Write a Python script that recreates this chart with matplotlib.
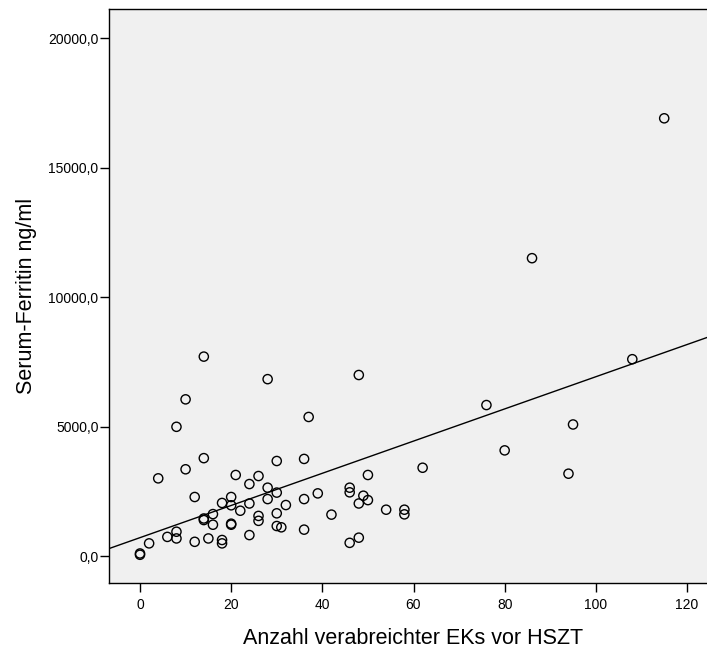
import numpy as np
import matplotlib
matplotlib.use("Agg")
import matplotlib.pyplot as plt
from matplotlib.ticker import FuncFormatter

plt.rcParams['font.family'] = ['Liberation Sans', 'DejaVu Sans']

# Anzahl EKs (x) und Serum-Ferritin (y)
ek_count = [0, 0, 2, 4, 6, 8, 8, 8, 10, 10, 12, 12, 14, 14, 14, 14, 15, 16, 16,
            18, 18, 18, 20, 20, 20, 20, 21, 22, 24, 24, 24, 26, 26, 26, 28, 28,
            28, 30, 30, 30, 30, 31, 32, 36, 36, 36, 37, 39, 42, 46, 46, 46, 48,
            48, 48, 49, 50, 50, 54, 58, 58, 62, 76, 80, 86, 94, 95, 108, 115]
ferritin = [100, 50, 490, 3000, 740, 4990, 940, 680, 6050, 3350, 2280, 550,
            7700, 3780, 1450, 1390, 680, 1620, 1210, 2050, 620, 490, 2280, 1960,
            1250, 1210, 3130, 1750, 2780, 2030, 810, 3090, 1550, 1360, 6830,
            2640, 2200, 3670, 2450, 1650, 1160, 1110, 1970, 3750, 2200, 1020,
            5370, 2420, 1600, 2640, 2460, 510, 6990, 2030, 710, 2330, 3130, 2160,
            1790, 1790, 1610, 3410, 5830, 4080, 11500, 3180, 5080, 7600, 16900]

x_ticks = [0, 20, 40, 60, 80, 100, 120]
y_ticks = [0, 5000, 10000, 15000, 20000]

x = np.array(ek_count)
y = np.array(ferritin)
# lineare Anpassung
slope, intercept = np.polyfit(x, y, 1)

fig = plt.figure(figsize=(7.07, 6.48), dpi=100)
ax = fig.add_axes([109 / 707, 65 / 648, 609 / 707, 574 / 648])
ax.set_facecolor('#f0f0f0')

ax.scatter(x, y, s=44, facecolors='none', edgecolors='black', linewidths=1.0, zorder=3)
ax.axline((0, intercept), slope=slope, color='black', linewidth=1.0, zorder=2)

ax.set_xlim(-6.8, 126.8)
ax.set_ylim(-1040, 21120)
ax.set_xticks(x_ticks)
ax.set_yticks(y_ticks)
ax.yaxis.set_major_formatter(FuncFormatter(lambda v, p: f"{v:.1f}".replace('.', ',')))

for side in ['left', 'bottom', 'top']:
    ax.spines[side].set_linewidth(1.0)
    ax.spines[side].set_color('black')
ax.spines['right'].set_visible(False)

ax.tick_params(axis='both', direction='out', length=6.5, width=1.0, labelsize=10, colors='black')
ax.tick_params(axis='y', pad=1)
ax.tick_params(axis='x', pad=4.5)

ax.set_xlabel("Anzahl verabreichter EKs vor HSZT", fontsize=15.5, labelpad=11)
ax.set_ylabel("Serum-Ferritin ng/ml", fontsize=15.5, labelpad=8)

fig.savefig("out.png", dpi=100)
